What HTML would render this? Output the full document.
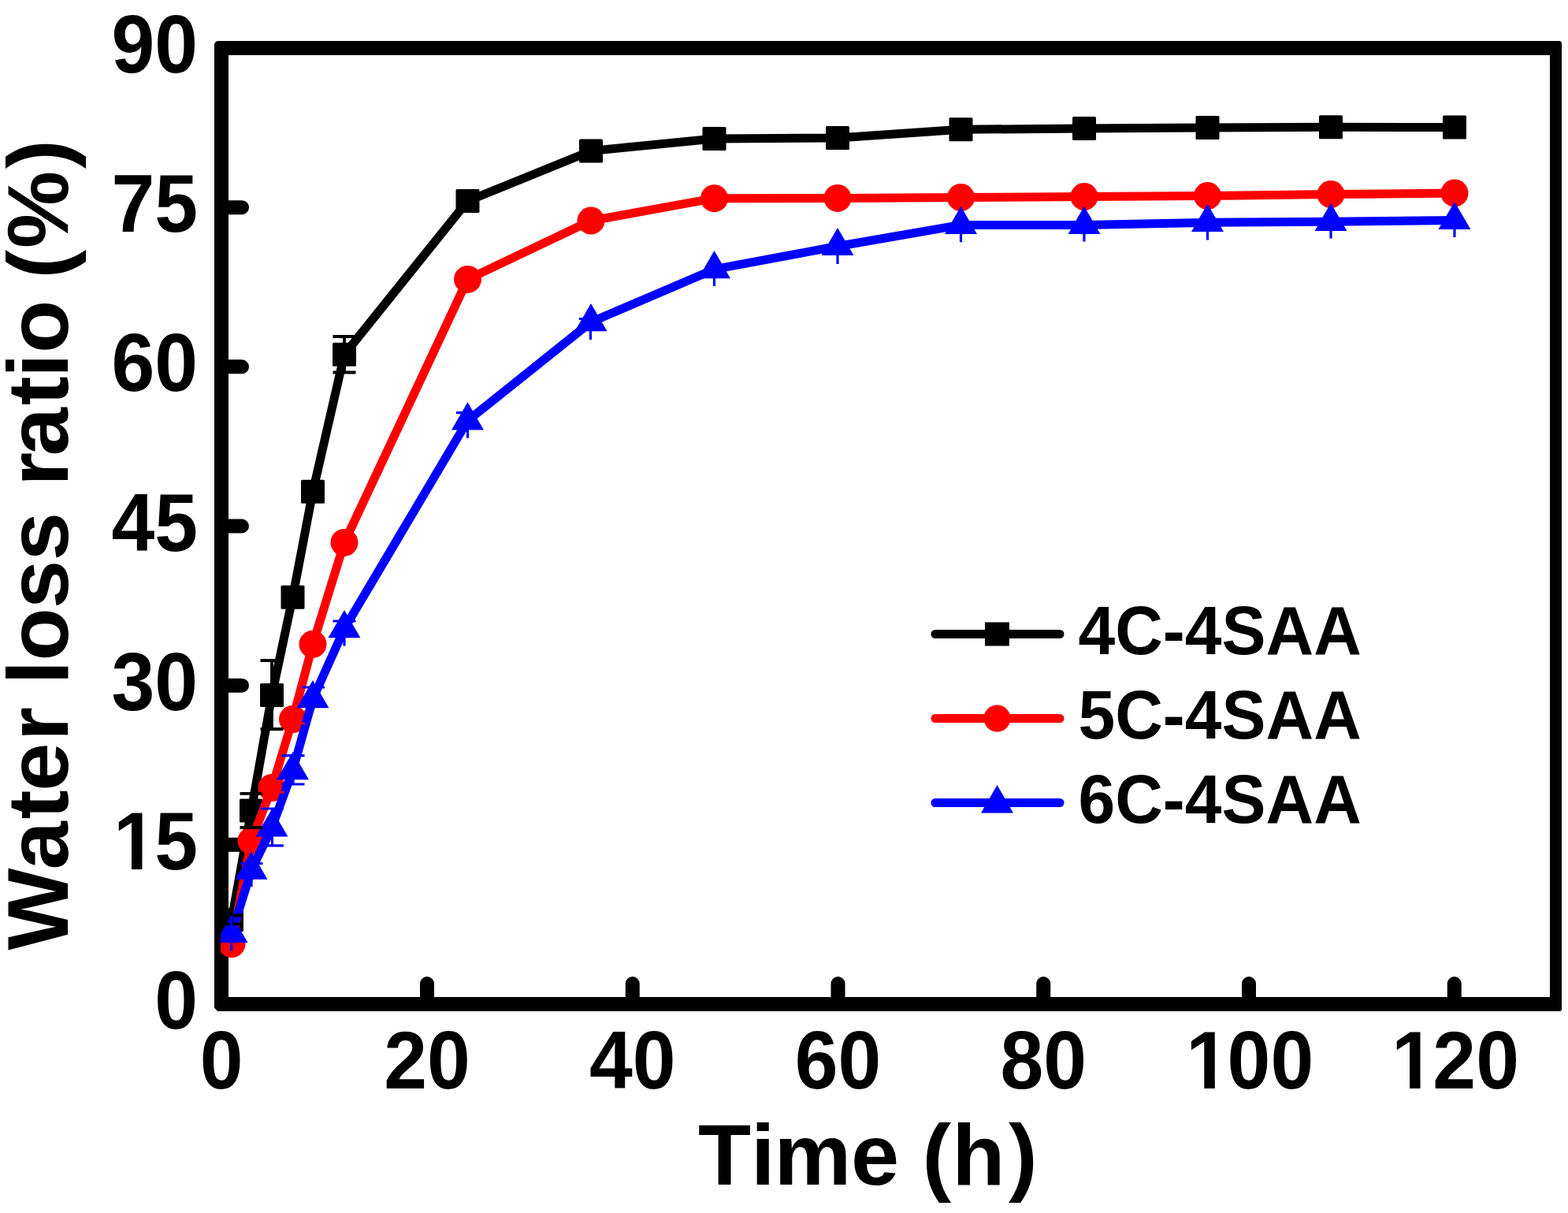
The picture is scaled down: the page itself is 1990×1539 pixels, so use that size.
<!DOCTYPE html><html><head><meta charset="utf-8"><style>html,body{margin:0;padding:0;background:#fff;overflow:hidden;}svg{display:block;}text{font-family:"Liberation Sans",Arial,sans-serif;font-weight:bold;fill:#000;}</style></head><body>
<svg width="1990" height="1539" viewBox="0 0 1990 1539">
<rect width="1990" height="1539" fill="#fff"/>
<path fill="#000" fill-rule="evenodd" d="M272,57.5Q272,52 277.5,52H1980L1982,54V1281L1980.5,1283H276.2L272,1278.8Z M290,70V1265H1967V70Z"/>
<defs><clipPath id="c"><rect x="280" y="61" width="1694" height="1213"/></clipPath></defs>
<path d="M281,1071.83H307M281,869.67H307M281,667.50H307M281,465.33H307M281,263.17H307M542.00,1274V1248M802.75,1274V1248M1063.50,1274V1248M1324.25,1274V1248M1585.00,1274V1248M1845.75,1274V1248" stroke="#000" stroke-width="18" stroke-linecap="round" fill="none"/>
<g clip-path="url(#c)">
<polyline points="294.00,1167.00 319.00,1028.40 345.00,882.00 371.50,757.70 397.00,623.80 437.00,449.70 593.50,255.00 750.00,191.50 906.50,176.00 1063.00,175.00 1219.50,164.30 1376.00,163.00 1532.50,162.00 1689.00,161.30 1846.00,161.50" fill="none" stroke="#000" stroke-width="11" stroke-linejoin="round"/>
<rect x="279.00" y="1152.00" width="30" height="30" rx="1.5" fill="#000"/>
<rect x="304.00" y="1013.40" width="30" height="30" rx="1.5" fill="#000"/>
<rect x="330.00" y="867.00" width="30" height="30" rx="1.5" fill="#000"/>
<rect x="356.50" y="742.70" width="30" height="30" rx="1.5" fill="#000"/>
<rect x="382.00" y="608.80" width="30" height="30" rx="1.5" fill="#000"/>
<rect x="422.00" y="434.70" width="30" height="30" rx="1.5" fill="#000"/>
<rect x="578.50" y="240.00" width="30" height="30" rx="1.5" fill="#000"/>
<rect x="735.00" y="176.50" width="30" height="30" rx="1.5" fill="#000"/>
<rect x="891.50" y="161.00" width="30" height="30" rx="1.5" fill="#000"/>
<rect x="1048.00" y="160.00" width="30" height="30" rx="1.5" fill="#000"/>
<rect x="1204.50" y="149.30" width="30" height="30" rx="1.5" fill="#000"/>
<rect x="1361.00" y="148.00" width="30" height="30" rx="1.5" fill="#000"/>
<rect x="1517.50" y="147.00" width="30" height="30" rx="1.5" fill="#000"/>
<rect x="1674.00" y="146.30" width="30" height="30" rx="1.5" fill="#000"/>
<rect x="1831.00" y="146.50" width="30" height="30" rx="1.5" fill="#000"/>
<polyline points="294.00,1197.50 319.00,1066.80 345.00,999.50 371.50,912.50 397.00,817.30 437.00,688.40 593.50,354.40 750.00,280.00 906.50,251.70 1063.00,251.40 1219.50,250.50 1376.00,249.50 1532.50,248.50 1689.00,246.50 1846.00,245.00" fill="none" stroke="#f00" stroke-width="11" stroke-linejoin="round"/>
<circle cx="294.00" cy="1197.50" r="17.5" fill="#f00"/>
<circle cx="319.00" cy="1066.80" r="17.5" fill="#f00"/>
<circle cx="345.00" cy="999.50" r="17.5" fill="#f00"/>
<circle cx="371.50" cy="912.50" r="17.5" fill="#f00"/>
<circle cx="397.00" cy="817.30" r="17.5" fill="#f00"/>
<circle cx="437.00" cy="688.40" r="17.5" fill="#f00"/>
<circle cx="593.50" cy="354.40" r="17.5" fill="#f00"/>
<circle cx="750.00" cy="280.00" r="17.5" fill="#f00"/>
<circle cx="906.50" cy="251.70" r="17.5" fill="#f00"/>
<circle cx="1063.00" cy="251.40" r="17.5" fill="#f00"/>
<circle cx="1219.50" cy="250.50" r="17.5" fill="#f00"/>
<circle cx="1376.00" cy="249.50" r="17.5" fill="#f00"/>
<circle cx="1532.50" cy="248.50" r="17.5" fill="#f00"/>
<circle cx="1689.00" cy="246.50" r="17.5" fill="#f00"/>
<circle cx="1846.00" cy="245.00" r="17.5" fill="#f00"/>
<polyline points="294.00,1184.30 319.00,1104.20 345.00,1050.00 371.50,977.60 397.00,886.70 437.00,797.70 593.50,533.80 750.00,408.60 906.50,341.70 1063.00,312.50 1219.50,285.40 1376.00,285.40 1532.50,282.30 1689.00,281.30 1846.00,279.50" fill="none" stroke="#00f" stroke-width="11" stroke-linejoin="round"/>
<path d="M294.00,1160.70L314.50,1195.90H273.50Z" fill="#00f"/>
<path d="M319.00,1080.60L339.50,1115.80H298.50Z" fill="#00f"/>
<path d="M345.00,1026.40L365.50,1061.60H324.50Z" fill="#00f"/>
<path d="M371.50,954.00L392.00,989.20H351.00Z" fill="#00f"/>
<path d="M397.00,863.10L417.50,898.30H376.50Z" fill="#00f"/>
<path d="M437.00,774.10L457.50,809.30H416.50Z" fill="#00f"/>
<path d="M593.50,510.20L614.00,545.40H573.00Z" fill="#00f"/>
<path d="M750.00,385.00L770.50,420.20H729.50Z" fill="#00f"/>
<path d="M906.50,318.10L927.00,353.30H886.00Z" fill="#00f"/>
<path d="M1063.00,288.90L1083.50,324.10H1042.50Z" fill="#00f"/>
<path d="M1219.50,261.80L1240.00,297.00H1199.00Z" fill="#00f"/>
<path d="M1376.00,261.80L1396.50,297.00H1355.50Z" fill="#00f"/>
<path d="M1532.50,258.70L1553.00,293.90H1512.00Z" fill="#00f"/>
<path d="M1689.00,257.70L1709.50,292.90H1668.50Z" fill="#00f"/>
<path d="M1846.00,255.90L1866.50,291.10H1825.50Z" fill="#00f"/>
<path d="M294.00,1161.50V1172.30M279.50,1161.50H308.50M279.50,1172.30H308.50M319.00,1006.80V1050.00M304.50,1006.80H333.50M304.50,1050.00H333.50M345.00,838.00V925.00M330.50,838.00H359.50M330.50,925.00H359.50M437.00,427.00V472.50M422.50,427.00H451.50M422.50,472.50H451.50" stroke="#000" stroke-width="3.8" stroke-linecap="butt" fill="none"/>
<path d="M346.00,992.00V1005.00M331.50,992.00H360.50M331.50,1005.00H360.50M372.50,903.00V918.00M358.00,903.00H387.00M358.00,918.00H387.00" stroke="#f00" stroke-width="3.2" stroke-linecap="butt" fill="none"/>
<path d="M293.50,1162.00V1206.50M319.00,1095.50V1125.00M304.50,1095.50H333.50M345.40,1026.00V1072.80M330.90,1026.00H359.90M330.90,1072.80H359.90M372.00,958.70V995.00M357.50,958.70H386.50M357.50,995.00H386.50M397.50,872.00V901.40M383.00,872.00H412.00M437.00,788.00V819.60M422.50,788.00H451.50M593.50,523.70V555.70M579.00,523.70H608.00M749.50,404.50V431.00M735.00,404.50H764.00M906.50,341.70V363.00M1063.00,312.50V335.00M1219.50,285.40V307.30M1376.00,285.40V306.50M1532.50,282.30V304.50M1689.00,281.30V302.50M1846.00,279.50V301.00" stroke="#00f" stroke-width="3.2" stroke-linecap="butt" fill="none"/>
</g>
<g transform="translate(251.00,1305.00) scale(0.985,1.04)"><text font-size="100" x="-55.62" y="0">0</text></g>
<g transform="translate(251.00,1102.83) scale(0.985,1.04)"><text font-size="100" x="-108.69 -55.62" y="0">15</text><rect x="-103.59" y="-10.81" width="18.24" height="11.41" fill="#fff"/><rect x="-71.63" y="-10.81" width="17.17" height="11.41" fill="#fff"/></g>
<g transform="translate(251.00,900.67) scale(0.985,1.04)"><text font-size="100" x="-111.23 -55.62" y="0">30</text></g>
<g transform="translate(251.00,698.50) scale(0.985,1.04)"><text font-size="100" x="-111.23 -55.62" y="0">45</text></g>
<g transform="translate(251.00,496.33) scale(0.985,1.04)"><text font-size="100" x="-111.23 -55.62" y="0">60</text></g>
<g transform="translate(251.00,294.17) scale(0.985,1.04)"><text font-size="100" x="-111.23 -55.62" y="0">75</text></g>
<g transform="translate(251.00,92.00) scale(0.985,1.04)"><text font-size="100" x="-111.23 -55.62" y="0">90</text></g>
<g transform="translate(281.25,1381.00) scale(0.985,1.04)"><text font-size="100" x="-27.81" y="0">0</text></g>
<g transform="translate(542.00,1381.00) scale(0.985,1.04)"><text font-size="100" x="-55.62 0.00" y="0">20</text></g>
<g transform="translate(802.75,1381.00) scale(0.985,1.04)"><text font-size="100" x="-55.62 0.00" y="0">40</text></g>
<g transform="translate(1063.50,1381.00) scale(0.985,1.04)"><text font-size="100" x="-55.62 0.00" y="0">60</text></g>
<g transform="translate(1324.25,1381.00) scale(0.985,1.04)"><text font-size="100" x="-55.62 0.00" y="0">80</text></g>
<g transform="translate(1585.00,1381.00) scale(0.985,1.04)"><text font-size="100" x="-80.88 -27.81 27.81" y="0">100</text><rect x="-75.79" y="-10.81" width="18.24" height="11.41" fill="#fff"/><rect x="-43.82" y="-10.81" width="17.17" height="11.41" fill="#fff"/></g>
<g transform="translate(1845.75,1381.00) scale(0.985,1.04)"><text font-size="100" x="-80.88 -27.81 27.81" y="0">120</text><rect x="-75.79" y="-10.81" width="18.24" height="11.41" fill="#fff"/><rect x="-43.82" y="-10.81" width="17.17" height="11.41" fill="#fff"/></g>
<text x="885.9 953.1 982.4 1080.0 1141.2 1170.5 1208.3 1279.9" y="1503" font-size="110">Time (h)</text>
<text transform="translate(86,1205) rotate(-90)" x="-0.5 101.6 165.8 201.3 265.0 308.0 336.6 366.5 432.9 493.8 555.1 588.2 626.4 690.7 726.1 757.0 824.4 851.5 890.0 991.0" y="0" font-size="110.3">Water loss ratio (%)</text>
<path d="M1187,804.5H1345" stroke="#000" stroke-width="11" stroke-linecap="round"/>
<rect x="1250.0" y="789.5" width="31" height="30" fill="#000"/>
<text transform="translate(1368.50,829.70) scale(1.0,1.037)" font-size="84" text-anchor="start">4C-4SAA</text>
<path d="M1187,911.5H1345" stroke="#f00" stroke-width="11" stroke-linecap="round"/>
<circle cx="1265.5" cy="911.5" r="17" fill="#f00"/>
<text transform="translate(1368.50,936.70) scale(1.0,1.037)" font-size="84" text-anchor="start">5C-4SAA</text>
<path d="M1187,1018.5H1345" stroke="#00f" stroke-width="11" stroke-linecap="round"/>
<path d="M1265.5,996.0L1286.0,1031.5H1245.0Z" fill="#00f"/>
<text transform="translate(1368.50,1043.70) scale(1.0,1.037)" font-size="84" text-anchor="start">6C-4SAA</text>
</svg></body></html>
